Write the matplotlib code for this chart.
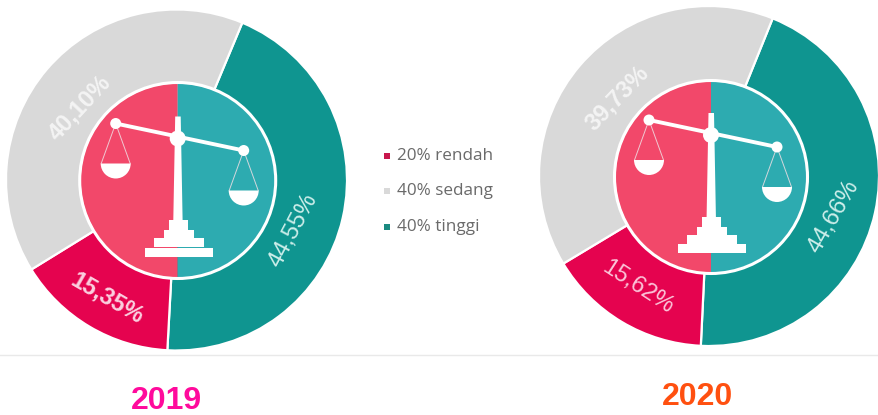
import matplotlib
matplotlib.use("Agg")
import matplotlib.pyplot as plt
from matplotlib.patches import Circle, Wedge, Rectangle, Polygon

W, H = 879, 415
plt.rcParams['font.family'] = ['Liberation Sans', 'DejaVu Sans']

years = ['2019', '2020']
groups = ['20% rendah', '40% sedang', '40% tinggi']
# clockwise order starting with the teal wedge
values_2019 = [44.55, 15.35, 40.10]
values_2020 = [44.66, 15.62, 39.73]
labels_2019 = ['44,55%', '15,35%', '40,10%']
labels_2020 = ['44,66%', '15,62%', '39,73%']
wedge_colors = ['#0f9590', '#e5034f', '#d9d9d9']
legend_colors = ['#c8174d', '#d9d9d9', '#1a8a80']
year_colors = ['#ff0a9c', '#ff5010']

fig = plt.figure(figsize=(W / 100, H / 100), dpi=100, facecolor='white')
ax = fig.add_axes([0, 0, 1, 1])


def Y(py):
    return H - py


def scale_icon(cx, cy, r, s=1.0):
    """Inner disc with the balance drawn on it, in pixel units about (cx, cy)."""
    cy = Y(cy)
    ax.add_patch(Wedge((cx, cy), r, 90, 270, fc='#f2486a', ec='none', zorder=3))
    ax.add_patch(Wedge((cx, cy), r, -90, 90, fc='#2dabb0', ec='none', zorder=3))
    ax.add_patch(Circle((cx, cy), r + 1, fc='none', ec='white', lw=2.2, zorder=4))
    P = lambda dx, dy: (cx + dx * s, cy - dy * s)
    w = dict(fc='white', ec='none', zorder=5)
    # pillar
    ax.add_patch(Polygon([P(-2.5, -64), P(3, -64), P(5, 45), P(-4.5, 45)], **w))
    # beam
    ax.plot(*zip(P(-62, -57), P(66, -30)), color='white', lw=2.8, zorder=5, solid_capstyle='round')
    ax.add_patch(Circle(P(0, -42), 8 * s, **w))
    # pans
    for bx, by, py in [(-62, -57, -17), (66, -30, 10)]:
        for side in (-14.5, 14.5):
            ax.plot(*zip(P(bx, by), P(bx + side, py)), color='#f0dfe4', lw=0.7, alpha=0.85, zorder=5)
        ax.add_patch(Circle(P(bx, by), 5.5 * s, **w))
        ax.add_patch(Wedge(P(bx, py), 15 * s, 180, 360, **w))
    # stepped base
    for x0, x1, y0, y1 in [(-33, 35, 67, 76), (-24, 26, 58, 67), (-14, 16, 50, 58), (-9, 10, 40, 50)]:
        (a, b), (c, d) = P(x0, y1), P(x1, y0)
        ax.add_patch(Rectangle((a, b), c - a, d - b, **w))


def donut(values, labels, centre, radius, start, inner, text_spec):
    ax.pie(values, colors=wedge_colors, startangle=start, counterclock=False,
           center=(centre[0], Y(centre[1])), radius=radius, frame=True,
           wedgeprops=dict(edgecolor='white', linewidth=1.6))
    scale_icon(*inner)
    for lab, (x, y, rot, col, weight) in zip(labels, text_spec):
        ax.text(x, Y(y), lab, rotation=rot, rotation_mode='anchor', ha='center', va='center',
                color=col, fontsize=17, fontweight=weight, zorder=6)


donut(values_2019, labels_2019, (176.5, 180), 170.5, 67.3, (177.7, 180.5, 97),
      [(293, 230, 62, '#cdeeea', 'normal'),
       (107, 298, -30, '#fbd0e0', 'bold'),
       (80, 108, 47, '#f4f4f4', 'bold')])
donut(values_2020, labels_2020, (709, 176), 170, 68, (711, 177, 95.5),
      [(834, 217, 60, '#cdeeea', 'normal'),
       (638, 287, -33, '#fbc4d8', 'normal'),
       (617, 98, 46, '#f4f4f4', 'bold')])

# legend
for name, col, py in zip(groups, legend_colors, [156, 191, 227]):
    ax.add_patch(Rectangle((384, Y(py) - 3), 6, 6, fc=col, ec='none'))
    ax.text(397, Y(py), name, family='Open Sans', fontsize=12.3, color='#6a6a6a',
            ha='left', va='center')

# separator and year captions
ax.plot([0, W], [Y(355), Y(355)], color='#e9e9e9', lw=1)
for yr, col, x, py in zip(years, year_colors, [166, 698], [401, 397]):
    ax.text(x, Y(py), yr, color=col, fontsize=23, fontweight='bold', ha='center', va='center')

ax.set_xlim(0, W)
ax.set_ylim(0, H)
ax.set_aspect('auto')
ax.axis('off')
fig.savefig('out.png', dpi=100, facecolor='white')
